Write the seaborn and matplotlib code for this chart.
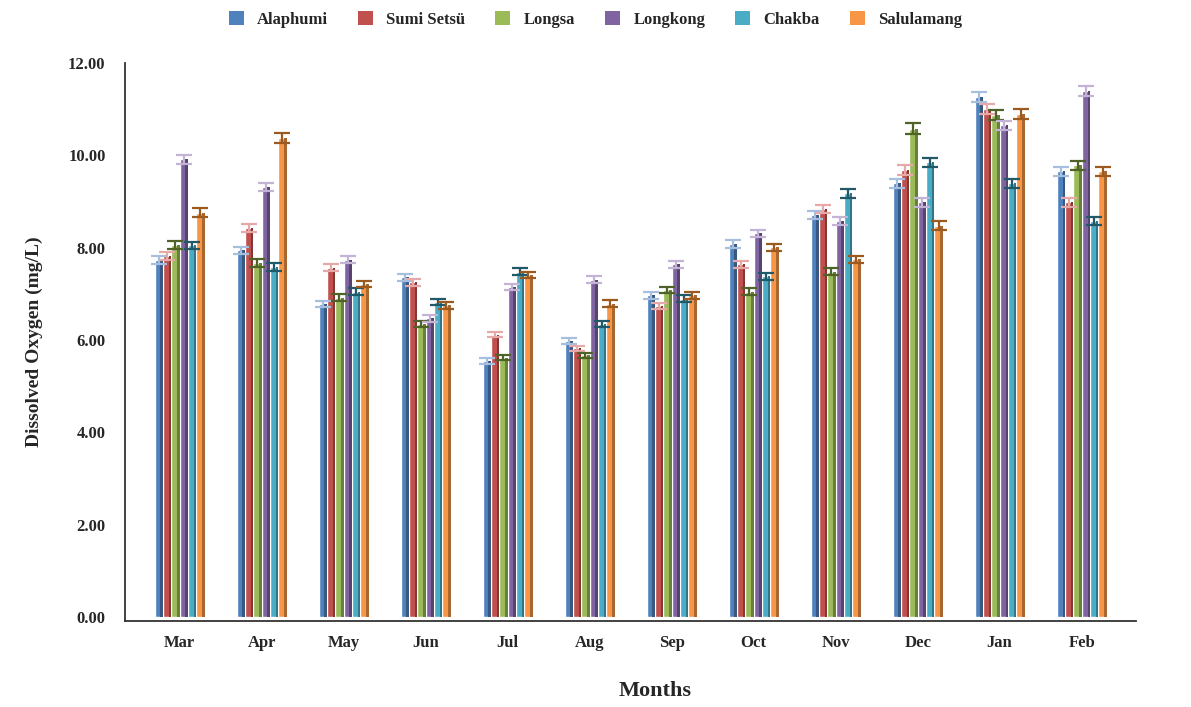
import matplotlib
matplotlib.use("Agg")
import matplotlib.pyplot as plt
import matplotlib.colors as mcolors
from matplotlib.patches import Rectangle, Patch
from matplotlib.ticker import FormatStrFormatter
import numpy as np
import pandas as pd
import seaborn as sns

months = ["Mar", "Apr", "May", "Jun", "Jul", "Aug", "Sep", "Oct", "Nov", "Dec", "Jan", "Feb"]
sites = ["Alaphumi", "Sumi Setsü", "Longsa", "Longkong", "Chakba", "Salulamang"]

# mean dissolved oxygen (mg/L)
alaphumi   = [7.73, 7.94, 6.78, 7.36, 5.55, 5.98, 6.97, 8.08, 8.71, 9.39, 11.26, 9.65]
sumi       = [7.82, 8.42, 7.57, 7.25, 6.12, 5.82, 6.74, 7.64, 8.84, 9.68, 11.00, 8.98]
longsa     = [8.06, 7.67, 6.92, 6.35, 5.62, 5.67, 7.08, 7.05, 7.48, 10.58, 10.87, 9.78]
longkong   = [9.91, 9.31, 7.74, 6.47, 7.15, 7.31, 7.64, 8.31, 8.58, 8.98, 10.65, 11.39]
chakba     = [8.05, 7.58, 7.05, 6.82, 7.48, 6.35, 6.90, 7.38, 9.18, 9.85, 9.39, 8.58]
salulamang = [8.76, 10.38, 7.22, 6.75, 7.41, 6.79, 6.97, 8.01, 7.75, 8.48, 10.89, 9.65]

# error (+/-)
err_alaphumi   = [0.08, 0.08, 0.07, 0.07, 0.06, 0.06, 0.07, 0.08, 0.09, 0.09, 0.11, 0.10]
err_sumi       = [0.08, 0.09, 0.08, 0.07, 0.06, 0.06, 0.07, 0.08, 0.09, 0.10, 0.11, 0.09]
err_longsa     = [0.08, 0.08, 0.07, 0.06, 0.06, 0.06, 0.07, 0.07, 0.08, 0.11, 0.11, 0.10]
err_longkong   = [0.10, 0.09, 0.08, 0.07, 0.07, 0.07, 0.08, 0.08, 0.09, 0.09, 0.10, 0.11]
err_chakba     = [0.08, 0.08, 0.07, 0.07, 0.07, 0.06, 0.07, 0.07, 0.10, 0.10, 0.09, 0.09]
err_salulamang = [0.09, 0.11, 0.07, 0.07, 0.07, 0.07, 0.07, 0.08, 0.08, 0.09, 0.11, 0.10]

values = [alaphumi, sumi, longsa, longkong, chakba, salulamang]
errors = [err_alaphumi, err_sumi, err_longsa, err_longkong, err_chakba, err_salulamang]

bar_colors = ["#4F81BD", "#C0504D", "#9BBB59", "#8064A2", "#4BACC6", "#F79646"]
err_colors = ["#A7BFDE", "#E6A9A8", "#4F6228", "#C3B4D6", "#215968", "#9C5A1E"]

rows = []
for s, vals in zip(sites, values):
    for m, v in zip(months, vals):
        rows.append({"month": m, "site": s, "do": v})
df = pd.DataFrame(rows)

sns.set_style("white")
plt.rcParams["font.family"] = ["Liberation Serif", "DejaVu Serif"]
plt.rcParams["font.weight"] = "bold"

fig = plt.figure(figsize=(11.91, 7.07), dpi=100)
ax = fig.add_axes([0.105, 0.1217, 0.849, 0.7893])

sns.barplot(data=df, x="month", y="do", hue="site", order=months, hue_order=sites,
            palette=bar_colors, width=0.61, gap=0, errorbar=None, saturation=1,
            legend=False, ax=ax)

# fake 3D side + error bars
bar_groups = list(ax.containers)
for i, cont in enumerate(bar_groups):
    dark = np.array(mcolors.to_rgb(bar_colors[i])) * 0.68
    for j, bar in enumerate(cont):
        x0, w, h = bar.get_x(), bar.get_width(), bar.get_height()
        ax.add_patch(Rectangle((x0 + w * 0.7, 0), w * 0.3, h, facecolor=dark,
                               edgecolor="none", zorder=bar.get_zorder() + 0.1))
        ax.errorbar(x0 + w / 2, h, yerr=errors[i][j], color=err_colors[i],
                    elinewidth=1.6, capsize=6, capthick=1.6, zorder=5)

ax.set_xlim(-0.665, 11.665)
ax.set_ylim(-0.08, 12)
ax.set_yticks(np.arange(0, 12.1, 2))
ax.yaxis.set_major_formatter(FormatStrFormatter("%.2f"))

for side in ["top", "right"]:
    ax.spines[side].set_visible(False)
for side in ["left", "bottom"]:
    ax.spines[side].set_color("#333333")
    ax.spines[side].set_linewidth(1.3)

ax.tick_params(axis="y", direction="out", length=8, width=1.2, color="#333333",
               labelsize=12, pad=6)
ax.tick_params(axis="x", length=0, labelsize=12, pad=10)
for lab in ax.get_xticklabels() + ax.get_yticklabels():
    lab.set_fontweight("bold")

ax.set_xlabel("Months", fontsize=16, fontweight="bold")
ax.xaxis.set_label_coords(0.524, -0.108)
ax.set_ylabel("Dissolved Oxygen (mg/L)", fontsize=14, fontweight="bold", labelpad=18)

handles = [Patch(facecolor=c, edgecolor="none") for c in bar_colors]
fig.legend(handles, sites, loc="upper center", bbox_to_anchor=(0.5, 1.005), ncol=6,
           frameon=False, handlelength=0.9, handleheight=0.9, columnspacing=1.8,
           handletextpad=0.8, prop={"size": 12, "weight": "bold"})

fig.savefig("out.png", dpi=100, facecolor="white")
